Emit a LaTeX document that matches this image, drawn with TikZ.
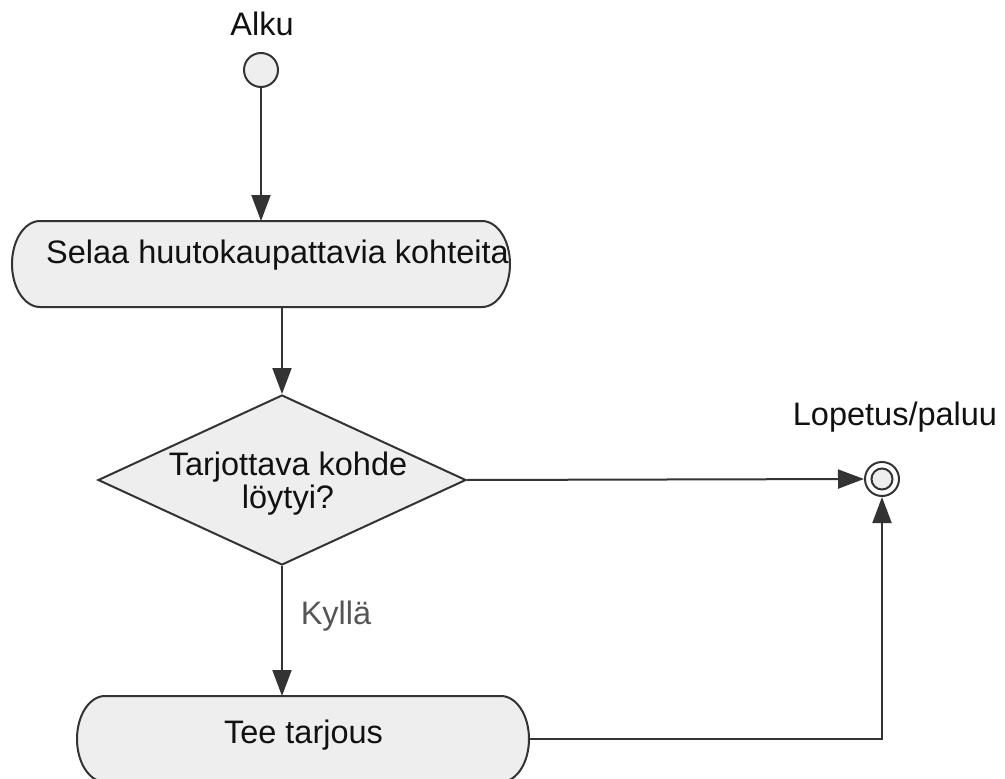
\documentclass[tikz,border=0pt]{standalone}
\usepackage{fontspec}
\setmainfont{Liberation Sans}
\usetikzlibrary{arrows.meta,shapes.geometric}

\definecolor{kviiva}{HTML}{333333}
\definecolor{ktayte}{HTML}{EEEEEE}
\definecolor{kteksti}{HTML}{111111}
\definecolor{kehto}{HTML}{555555}
\tikzset{
  kaavio/.style={draw=kviiva,line width=2pt},
  nuoli/.style={kaavio,-{Triangle[length=26pt,width=19pt]}},
  tila/.style={draw=none,minimum height=84pt,inner sep=0pt,outer sep=1pt},
  ehto/.style={kaavio,fill=ktayte,diamond,minimum width=368pt,minimum height=170pt,inner sep=0pt},
  piste/.style={kaavio,fill=ktayte,circle,minimum size=34pt,inner sep=0pt},
  teksti/.style={font=\fontsize{32.5}{33}\selectfont,text=kteksti,inner sep=0pt},
  merkki/.style={teksti,text=kehto},
}
% tilalaatikko soikeilla päädyillä
\newcommand{\kapseli}[1]{%
  \draw[kaavio,fill=ktayte] ([xshift=28pt]#1.north west) -- ([xshift=-28pt]#1.north east)
    arc[start angle=90,end angle=-90,x radius=28pt,y radius=43pt]
    -- ([xshift=28pt]#1.south west)
    arc[start angle=270,end angle=90,x radius=28pt,y radius=43pt] -- cycle;}

\begin{document}
\begin{tikzpicture}[x=1pt,y=-1pt]
  \useasboundingbox (0,0) rectangle (1005,779);
  % alku
  \node[piste] (alku) at (261,70) {};
  \node[teksti,anchor=base] (alkuteksti) at (262,35) {Alku};
  % tilat ja ehto
  \node[tila,minimum width=496pt] (selaa) at (261,264) {};
  \kapseli{selaa}
  \node[teksti,anchor=base] (selaateksti) at (277.5,263) {Selaa huutokaupattavia kohteita};
  \node[ehto] (loytyi) at (282,480) {};
  \node[teksti,align=center] (loytyiteksti) at (288,484) {Tarjottava kohde\\löytyi?};
  \node[tila,minimum width=450pt] (tarjous) at (303,739) {};
  \kapseli{tarjous}
  \node[teksti,anchor=base] (tarjousteksti) at (303.5,743) {Tee tarjous};
  % loppu
  \node[piste,fill=white] (loppu) at (882,479) {};
  \node[piste,minimum size=21pt] (loppupiste) at (loppu.center) {};
  \node[teksti,anchor=base] (lopputeksti) at (895,425) {Lopetus/paluu};
  % siirtymät
  \draw[nuoli] (alku) -- (alku |- selaa.north);
  \draw[nuoli] (loytyi.north |- selaa.south) -- (loytyi.north);
  \draw[nuoli] (loytyi.east) -- (loppu.west);
  \draw[nuoli] (loytyi.south) -- (loytyi.south |- tarjous.north);
  \node[merkki,anchor=base] (kylla) at (336,624) {Kyllä};
  \draw[nuoli] (tarjous.east) -| (loppu.south);
\end{tikzpicture}
\end{document}
